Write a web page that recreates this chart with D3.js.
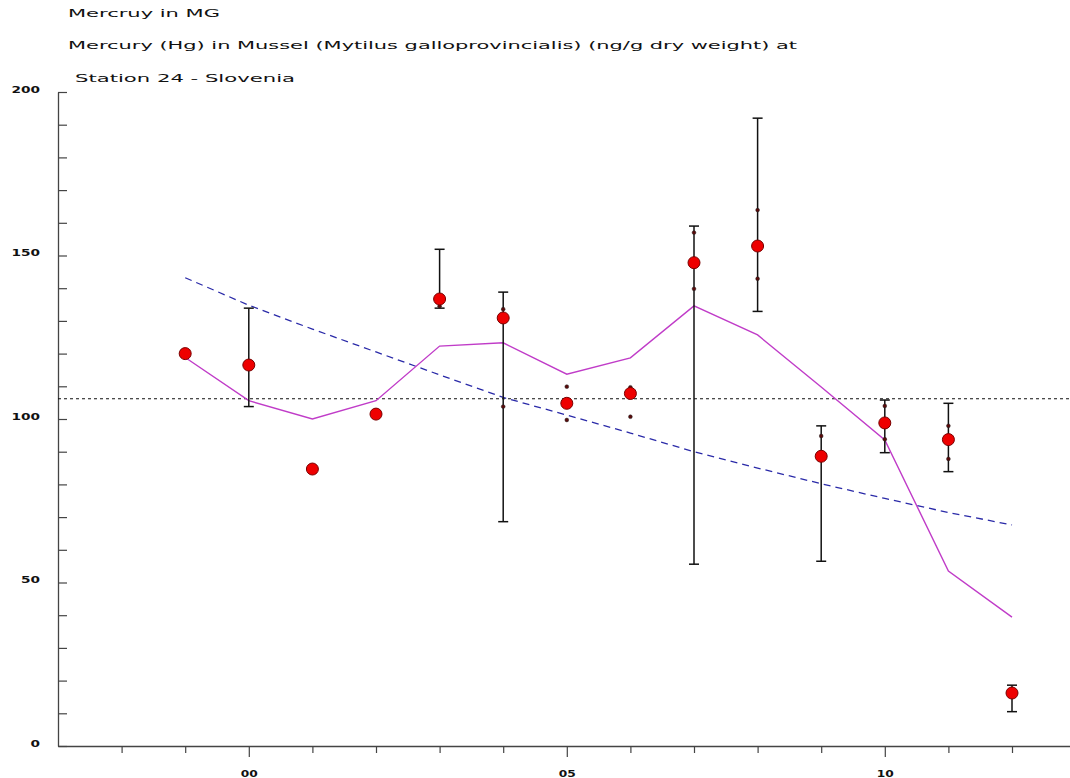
<!DOCTYPE html>
<html>
<head>
<meta charset="utf-8">
<script src="https://cdn.jsdelivr.net/npm/d3@7"></script>
<style>
  body { margin: 0; background: #fff; }
  svg { display: block; }
  text { font-family: "DejaVu Sans", "Liberation Sans", sans-serif; fill: #111; }
</style>
</head>
<body>
<svg id="chart" width="1070" height="778"></svg>
<script>
// ---- data ----
const titles = [
  "Mercruy in MG",
  "Mercury (Hg) in Mussel (Mytilus galloprovincialis) (ng/g dry weight) at",
  "Station 24 - Slovenia"
];
const years    = [1999, 2000, 2001, 2002, 2003, 2004, 2005, 2006, 2007, 2008, 2009, 2010, 2011, 2012];
const means    = [120, 116.5, 84.7, 101.5, 136.7, 130.9, 104.8, 107.8, 147.8, 152.9, 88.6, 98.8, 93.7, 16.2];
const barLow   = [null, 103.8, null, null, 133.9, 68.6, null, null, 55.6, 132.9, 56.5, 89.7, 83.9, 10.5];
const barHigh  = [null, 133.9, null, null, 151.9, 138.8, null, null, 159.0, 192.0, 97.9, 105.8, 104.8, 18.6];
const sampleYears  = [2003, 2004, 2004, 2005, 2005, 2006, 2006, 2007, 2007, 2008, 2008, 2009, 2010, 2010, 2011, 2011];
const sampleValues = [134.5, 133.6, 103.8, 109.9, 99.7, 109.7, 100.7, 157.0, 139.8, 163.9, 142.9, 94.8, 104.0, 93.8, 97.9, 87.8];
const smooth   = [118.8, 105.6, 100.0, 105.6, 122.3, 123.3, 113.7, 118.7, 134.6, 125.7, 109.8, 93.6, 53.5, 39.4];
const trend    = [143.2, 134.8, 127.5, 120.5, 113.5, 106.6, 101.2, 95.7, 90.0, 85.0, 80.2, 75.7, 71.4, 67.6];
const refLevel = 106.2;
const xTickYears = [1998, 1999, 2000, 2001, 2002, 2003, 2004, 2005, 2006, 2007, 2008, 2009, 2010, 2011, 2012];
const xLabelYears = [2000, 2005, 2010];
const yTicks = [0, 10, 20, 30, 40, 50, 60, 70, 80, 90, 100, 110, 120, 130, 140, 150, 160, 170, 180, 190, 200];
const yLabels = [0, 50, 100, 150, 200];

// ---- layout ----
const svg = d3.select("#chart");
const left = 58, right = 1070, x0 = 1997, yearW = 63.6;
const x = d3.scaleLinear().domain([x0, x0 + (right - left) / yearW]).range([left, right]);
const y = d3.scaleLinear().domain([0, 200]).range([746, 92]);

// titles
const tPos = [[68, 17, 152], [68, 49, 729], [75, 82, 220]];
titles.forEach((t, i) => {
  svg.append("text").attr("x", tPos[i][0]).attr("y", tPos[i][1])
    .attr("font-size", 11).attr("textLength", tPos[i][2])
    .attr("lengthAdjust", "spacingAndGlyphs").text(t);
});

// y axis
const yAxis = d3.axisLeft(y).tickValues(yTicks).tickSizeInner(-9).tickSizeOuter(0).tickPadding(18)
  .tickFormat(d => yLabels.includes(d) ? String(d) : "");
const gy = svg.append("g").attr("transform", `translate(${left},0)`).call(yAxis);
gy.select(".domain").attr("stroke", "#444").attr("stroke-width", 1.3);
gy.selectAll(".tick line").attr("stroke", "#444").attr("stroke-width", 1.2);
gy.selectAll(".tick text").attr("dy", "0.05em").attr("font-size", 8).attr("font-weight", "bold")
  .attr("font-family", "DejaVu Sans").attr("fill", "#222")
  .each(function(d) {
    const s = String(d);
    if (yLabels.includes(d)) d3.select(this).attr("textLength", s.length * 9.5).attr("lengthAdjust", "spacingAndGlyphs");
  });

// x axis
const xAxis = d3.axisBottom(x).tickValues(xTickYears).tickSizeOuter(0).tickSizeInner(7).tickPadding(18)
  .tickFormat(d => xLabelYears.includes(d) ? String(d).slice(2) : "");
const gx = svg.append("g").attr("transform", `translate(0,${y(0)})`).call(xAxis);
gx.select(".domain").attr("stroke", "#444").attr("stroke-width", 1.3);
gx.selectAll(".tick line").attr("stroke", "#444").attr("stroke-width", 1.2)
  .attr("y2", d => xLabelYears.includes(d) ? 11 : 7);
gx.selectAll(".tick text").attr("font-size", 8).attr("font-weight", "bold").attr("fill", "#222")
  .attr("font-family", "DejaVu Sans")
  .each(function(d) {
    if (xLabelYears.includes(d)) d3.select(this).attr("textLength", 17).attr("lengthAdjust", "spacingAndGlyphs");
  });

// reference line
svg.append("line").attr("x1", left).attr("x2", right).attr("y1", y(refLevel)).attr("y2", y(refLevel))
  .attr("stroke", "#111").attr("stroke-width", 1.1).attr("stroke-dasharray", "3,3");

// trend (blue dashed)
const line = d3.line().x((d, i) => x(years[i])).y(d => y(d));
svg.append("path").datum(trend).attr("d", line).attr("fill", "none")
  .attr("stroke", "#2a2aa8").attr("stroke-width", 1.3).attr("stroke-dasharray", "7,5");

// smoother (magenta)
svg.append("path").datum(smooth).attr("d", line).attr("fill", "none")
  .attr("stroke", "#c03cc8").attr("stroke-width", 1.4);

// error bars
const bars = years.map((yr, i) => ({ yr, lo: barLow[i], hi: barHigh[i] })).filter(d => d.lo !== null);
const gb = svg.append("g").attr("stroke", "#111").attr("stroke-width", 1.5);
bars.forEach(d => {
  gb.append("line").attr("x1", x(d.yr)).attr("x2", x(d.yr)).attr("y1", y(d.lo)).attr("y2", y(d.hi));
  [d.lo, d.hi].forEach(v => gb.append("line").attr("x1", x(d.yr) - 5).attr("x2", x(d.yr) + 5)
    .attr("y1", y(v)).attr("y2", y(v)));
});

// sample dots
svg.append("g").selectAll("circle").data(sampleValues).join("circle")
  .attr("cx", (d, i) => x(sampleYears[i])).attr("cy", d => y(d)).attr("r", 1.9)
  .attr("fill", "#5a0a0a").attr("stroke", "#222").attr("stroke-width", 0.5);

// means
svg.append("g").selectAll("circle").data(means).join("circle")
  .attr("cx", (d, i) => x(years[i])).attr("cy", d => y(d)).attr("r", 6)
  .attr("fill", "#ee0000").attr("stroke", "#7a0000").attr("stroke-width", 1);
</script>
</body>
</html>
